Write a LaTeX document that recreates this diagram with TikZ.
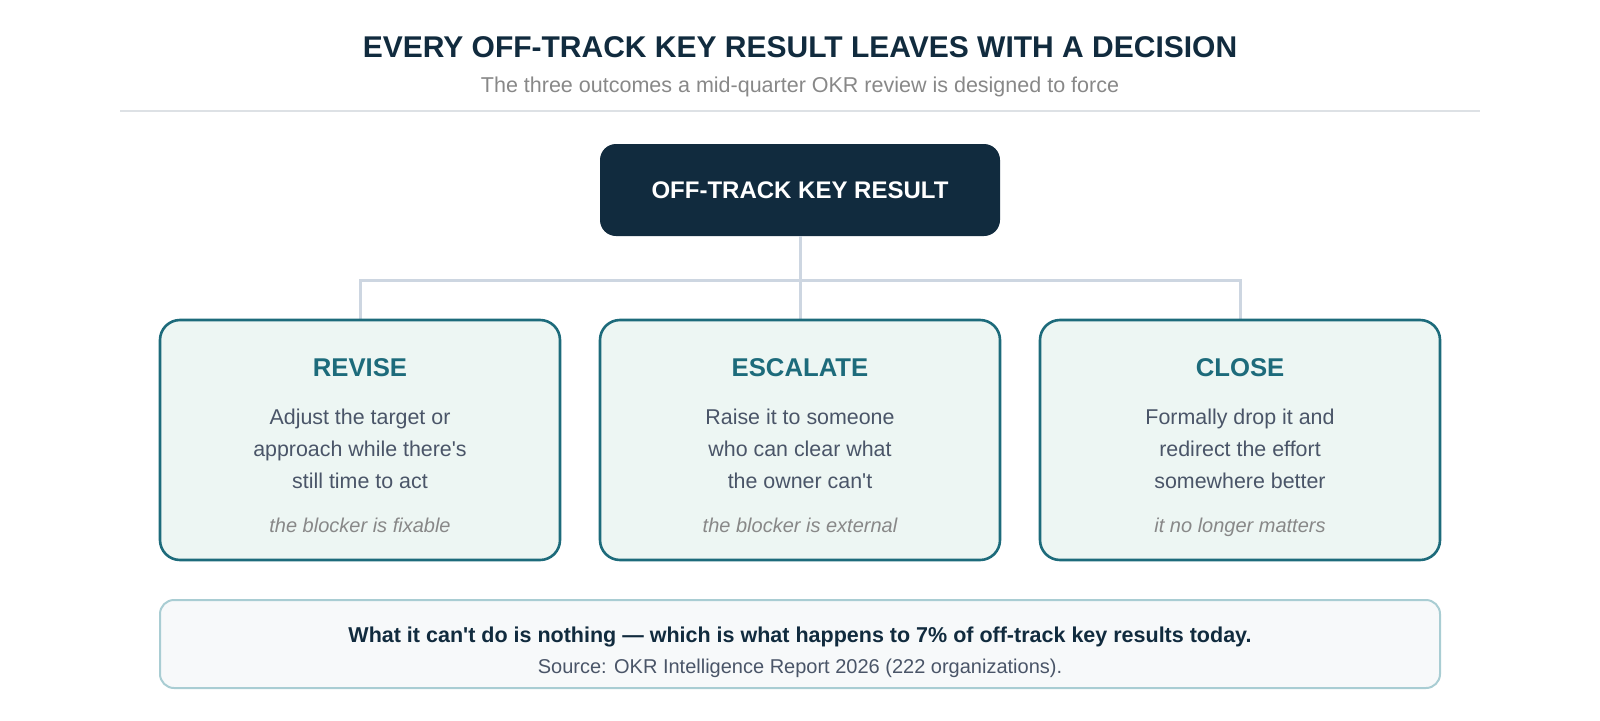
\documentclass[tikz,border=0pt]{standalone}
\usepackage{fontspec}
\setmainfont{Liberation Sans}
\usetikzlibrary{positioning}
\definecolor{navy}{HTML}{112B3E}
\definecolor{teal}{HTML}{1D6B7B}
\definecolor{mint}{HTML}{EDF6F3}
\definecolor{slate}{HTML}{4A5568}
\definecolor{muted}{HTML}{888888}
\definecolor{wire}{HTML}{CDD6E1}
\definecolor{rulegray}{HTML}{DDE1E5}
\definecolor{paper}{HTML}{F7F9FA}
\definecolor{frame}{HTML}{A9CDD3}

\begin{document}
\begin{tikzpicture}[x=1pt, y=-1pt,
    choice/.style={draw=teal, line width=2.6pt, fill=mint, rounded corners=20pt,
                   minimum width=400pt, minimum height=240pt, inner sep=0},
    head/.style={anchor=base, text=teal, font=\fontsize{25.7}{30}\selectfont\bfseries, inner sep=0},
    body/.style={align=center, text=slate, font=\fontsize{21.4}{32}\selectfont, inner sep=0},
    note/.style={anchor=base, text=muted, font=\fontsize{20}{24}\selectfont\itshape, inner sep=0},
    link/.style={draw=wire, line width=3pt}]
    \useasboundingbox (0,0) rectangle (1600,720);

    % heading
    \node[anchor=base, text=navy, font=\fontsize{30}{34}\selectfont\bfseries] (title) at (800,57)
        {EVERY OFF-TRACK KEY RESULT LEAVES WITH A DECISION};
    \node[anchor=base, text=muted, font=\fontsize{21.5}{24}\selectfont] (subtitle) at (800,92)
        {The three outcomes a mid-quarter OKR review is designed to force};
    \draw[rulegray, line width=2pt] (120,111) -- (1480,111);

    % root
    \node[fill=navy, rounded corners=16pt, minimum width=400pt, minimum height=92pt,
          text=white, font=\fontsize{24}{28}\selectfont\bfseries] (keyresult) at (800,190)
        {OFF-TRACK KEY RESULT};

    % connectors
    \coordinate (busleft) at (360,280);
    \coordinate (busright) at (1240,280);
    \draw[link] (keyresult.south) -- (800,320);
    \draw[link] (360,320) -- (busleft) -- (busright) -- (1240,320);

    % the three outcomes
    \node[choice] (revise) at (360,440) {};
    \node[choice] (escalate) at (800,440) {};
    \node[choice] (close) at (1240,440) {};

    \node[head] (revisehead) at (360,376) {REVISE};
    \node[body] (revisebody) at (360,450) {\strut Adjust the target or\\approach while there\textquotesingle s\\still time to act\strut};
    \node[note] (revisenote) at (360,532) {the blocker is fixable};

    \node[head] (escalatehead) at (800,376) {ESCALATE};
    \node[body] (escalatebody) at (800,450) {\strut Raise it to someone\\who can clear what\\the owner can\textquotesingle t\strut};
    \node[note] (escalatenote) at (800,532) {the blocker is external};

    \node[head] (closehead) at (1240,376) {CLOSE};
    \node[body] (closebody) at (1240,450) {\strut Formally drop it and\\redirect the effort\\somewhere better\strut};
    \node[note] (closenote) at (1240,532) {it no longer matters};

    % takeaway
    \node[draw=frame, line width=2pt, fill=paper, rounded corners=14pt,
          minimum width=1280pt, minimum height=88pt] (takeaway) at (800,644) {};
    \node[anchor=base, text=navy, font=\fontsize{21.5}{24}\selectfont\bfseries] (verdict) at (800,642)
        {What it can\textquotesingle t do is nothing --- which is what happens to 7\% of off-track key results today.};
    \node[anchor=base, text=slate, font=\fontsize{20}{22}\selectfont] (source) at (800,673)
        {Source: OKR Intelligence Report 2026 (222 organizations).};
\end{tikzpicture}
\end{document}
